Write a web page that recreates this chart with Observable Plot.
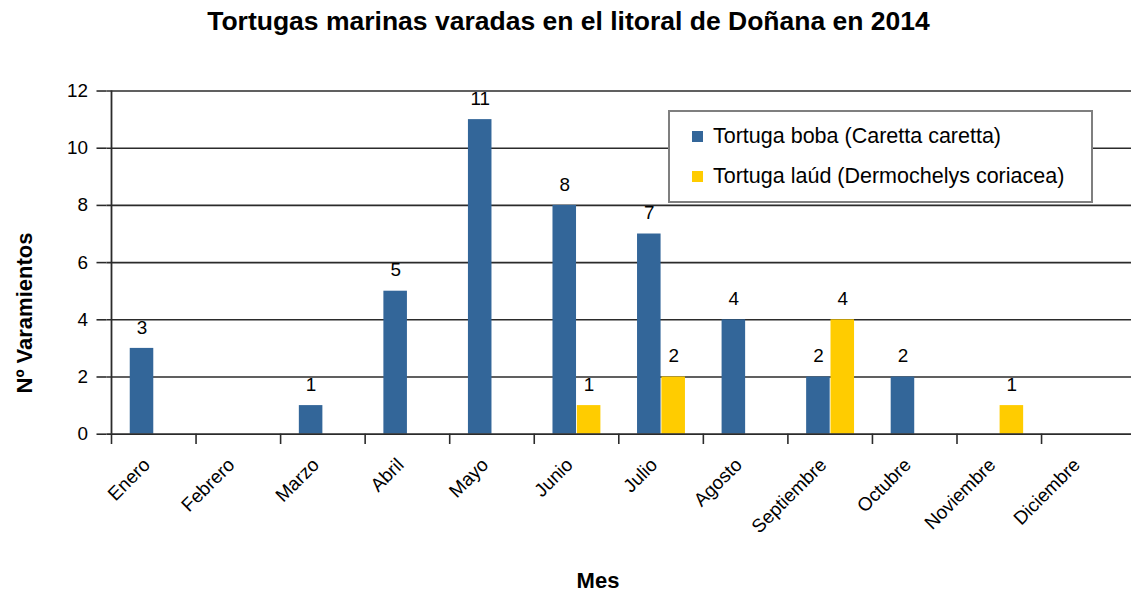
<!DOCTYPE html>
<html>
<head>
<meta charset="utf-8">
<script src="https://cdn.jsdelivr.net/npm/d3@7"></script>
<script src="https://cdn.jsdelivr.net/npm/@observablehq/plot@0.6"></script>
<style>
  html, body { margin: 0; padding: 0; background: #fff; overflow: hidden; width: 1131px; height: 596px; }
  #wrap { position: relative; width: 1131px; height: 596px; font-family: "Liberation Sans", Arial, sans-serif; }
  #title { position: absolute; left: 0; width: 1137px; top: 6px; text-align: center; font-weight: bold; font-size: 26.5px; color: #000; line-height: 30px; }
  #ylabel { position: absolute; left: 25px; top: 313px; transform: translate(-50%, -50%) rotate(-90deg); font-weight: bold; font-size: 22px; white-space: nowrap; color: #000; }
  #xlabel { position: absolute; left: 598px; top: 568px; transform: translateX(-50%); font-weight: bold; font-size: 22px; color: #000; line-height: 26px; }
  #legend { position: absolute; left: 668px; top: 110px; width: 421px; height: 89px; border: 2px solid #7f7f7f; background: #fff; }
  .item { position: absolute; left: 22px; font-size: 21.5px; white-space: nowrap; line-height: 24px; color: #000; }
  .sw { display: inline-block; width: 11px; height: 11px; margin-right: 10px; vertical-align: 1px; }
  #chart { position: absolute; left: 0; top: 0; }
</style>
</head>
<body>
<div id="wrap">
  <div id="chart"></div>
  <div id="title"></div>
  <div id="ylabel"></div>
  <div id="xlabel"></div>
  <div id="legend"></div>
</div>
<script>
const titleText = "Tortugas marinas varadas en el litoral de Doñana en 2014";
const yTitle = "Nº Varamientos";
const xTitle = "Mes";
const months = ["Enero","Febrero","Marzo","Abril","Mayo","Junio","Julio","Agosto","Septiembre","Octubre","Noviembre","Diciembre"];
const seriesNames = ["Tortuga boba (Caretta caretta)", "Tortuga laúd (Dermochelys coriacea)"];
const seriesColors = ["#336699", "#ffcc00"];
const boba = [3,0,1,5,11,8,7,4,2,2,0,0];
const laud = [0,0,0,0,0,1,2,0,4,0,1,0];
const yTicks = [0,2,4,6,8,10,12];

const bobaRows = months.map((m, i) => ({mes: m, n: boba[i]}));
const laudRows = months.map((m, i) => ({mes: m, n: laud[i]}));

const W = 1137, H = 596, ML = 107, MR = 0, MT = 91, MB = 160;
const bw = (W - ML - MR) / months.length;
const barW = 24.5;

const chart = Plot.plot({
  width: W, height: H,
  marginLeft: ML, marginRight: MR, marginTop: MT, marginBottom: MB,
  style: {fontFamily: "Liberation Sans, Arial, sans-serif", color: "#000", background: "transparent", overflow: "visible"},
  x: {domain: months, padding: 0, axis: null},
  y: {domain: [0, 12], axis: null},
  marks: [
    Plot.ruleY(yTicks.filter(d => d > 0), {stroke: "#2b2b2b", strokeWidth: 1.6}),
    Plot.barY(bobaRows.filter(d => d.n > 0), {x: "mes", y: "n", fill: seriesColors[0], insetLeft: bw/2 - barW, insetRight: bw/2}),
    Plot.barY(laudRows.filter(d => d.n > 0), {x: "mes", y: "n", fill: seriesColors[1], insetLeft: bw/2, insetRight: bw/2 - barW}),
    Plot.text(bobaRows.filter(d => d.n > 0), {x: "mes", y: "n", text: d => String(d.n), dx: -barW/2, dy: -21, fontSize: 19, fill: "#000"}),
    Plot.text(laudRows.filter(d => d.n > 0), {x: "mes", y: "n", text: d => String(d.n), dx: barW/2, dy: -21, fontSize: 19, fill: "#000"}),
    Plot.ruleY([0], {stroke: "#2b2b2b", strokeWidth: 1.8}),
    Plot.ruleX([months[0]], {dx: -bw/2, y1: 0, y2: 12, stroke: "#2b2b2b", strokeWidth: 1.8}),
    Plot.ruleX(months, {x: d => d, dx: -bw/2, y1: 0, y2: -0.36, stroke: "#2b2b2b", strokeWidth: 1.6}),
    Plot.axisY({ticks: yTicks, tickSize: 10, tickPadding: 9, fontSize: 19, label: null, stroke: "#2b2b2b", strokeWidth: 1.6, fill: "#000"}),
    Plot.text(months, {x: d => d, frameAnchor: "bottom", dy: 32, dx: -3, rotate: -45, textAnchor: "end", fontSize: 19, fill: "#000"})
  ]
});
document.getElementById("chart").appendChild(chart);

document.getElementById("title").textContent = titleText;
document.getElementById("ylabel").textContent = yTitle;
document.getElementById("xlabel").textContent = xTitle;
const legend = document.getElementById("legend");
seriesNames.forEach((name, i) => {
  const item = document.createElement("div");
  item.className = "item";
  item.style.top = (i === 0 ? 12 : 52) + "px";
  const sw = document.createElement("span");
  sw.className = "sw";
  sw.style.background = seriesColors[i];
  item.appendChild(sw);
  item.appendChild(document.createTextNode(name));
  legend.appendChild(item);
});
</script>
</body>
</html>
